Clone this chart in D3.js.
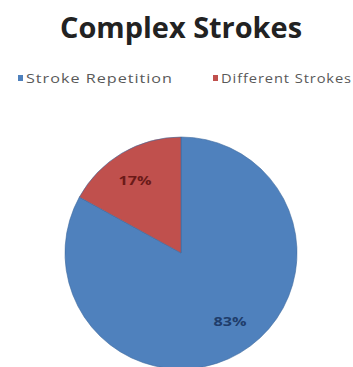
<!DOCTYPE html>
<html>
<head>
<meta charset="utf-8">
<script src="https://cdn.jsdelivr.net/npm/d3@7"></script>
<style>
  body { margin: 0; background: #fff; }
  text { font-family: "Open Sans", "DejaVu Sans", sans-serif; }
</style>
</head>
<body>
<div id="container"></div>
<script>
const w = 353;
const h = 367;

const categories = ["Stroke Repetition", "Different Strokes"];
const values = [83, 17];
const colors = ["#4f81bd", "#c0504d"];
const labelColors = ["#1f3d6b", "#6b1a18"];

const svg = d3.select("#container").append("svg")
  .attr("width", w).attr("height", h);

svg.append("text")
  .attr("x", 181).attr("y", 38)
  .attr("text-anchor", "middle")
  .attr("font-size", 28).attr("font-weight", "bold")
  .attr("fill", "#222")
  .attr("textLength", 242).attr("lengthAdjust", "spacingAndGlyphs")
  .text("Complex Strokes");

// legend
const legendX = [18, 213];
const legendLen = [147, 131];
const legend = svg.selectAll(".legend").data(categories).enter().append("g")
  .attr("class", "legend")
  .attr("transform", (d, i) => "translate(" + legendX[i] + ", 78)");
legend.append("rect")
  .attr("x", 0).attr("y", -3).attr("width", 5).attr("height", 6)
  .attr("fill", (d, i) => colors[i]);
legend.append("text")
  .attr("x", 8).attr("y", 4.5)
  .attr("font-size", 13).attr("fill", "#595959")
  .attr("letter-spacing", 0.8)
  .attr("textLength", (d, i) => legendLen[i]).attr("lengthAdjust", "spacingAndGlyphs")
  .text(d => d);

const cx = 181, cy = 253, r = 116;
const pie = d3.pie().sort(null)(values);
const arc = d3.arc().innerRadius(0).outerRadius(r);

const g = svg.append("g").attr("transform", "translate(" + cx + ", " + cy + ")");
g.selectAll("path").data(pie).enter().append("path")
  .attr("d", arc)
  .attr("fill", (d, i) => colors[i])
  .attr("stroke", "#3e6a9e").attr("stroke-width", 0.6);

const labelPos = [[49, 73], [-46, -68]];
g.selectAll(".lbl").data(pie).enter().append("text")
  .attr("class", "lbl")
  .attr("x", (d, i) => labelPos[i][0])
  .attr("y", (d, i) => labelPos[i][1])
  .attr("text-anchor", "middle")
  .attr("font-size", 12).attr("font-weight", "bold")
  .attr("fill", (d, i) => labelColors[i])
  .attr("textLength", 33).attr("lengthAdjust", "spacingAndGlyphs")
  .text(d => d.data + "%");
</script>
</body>
</html>
